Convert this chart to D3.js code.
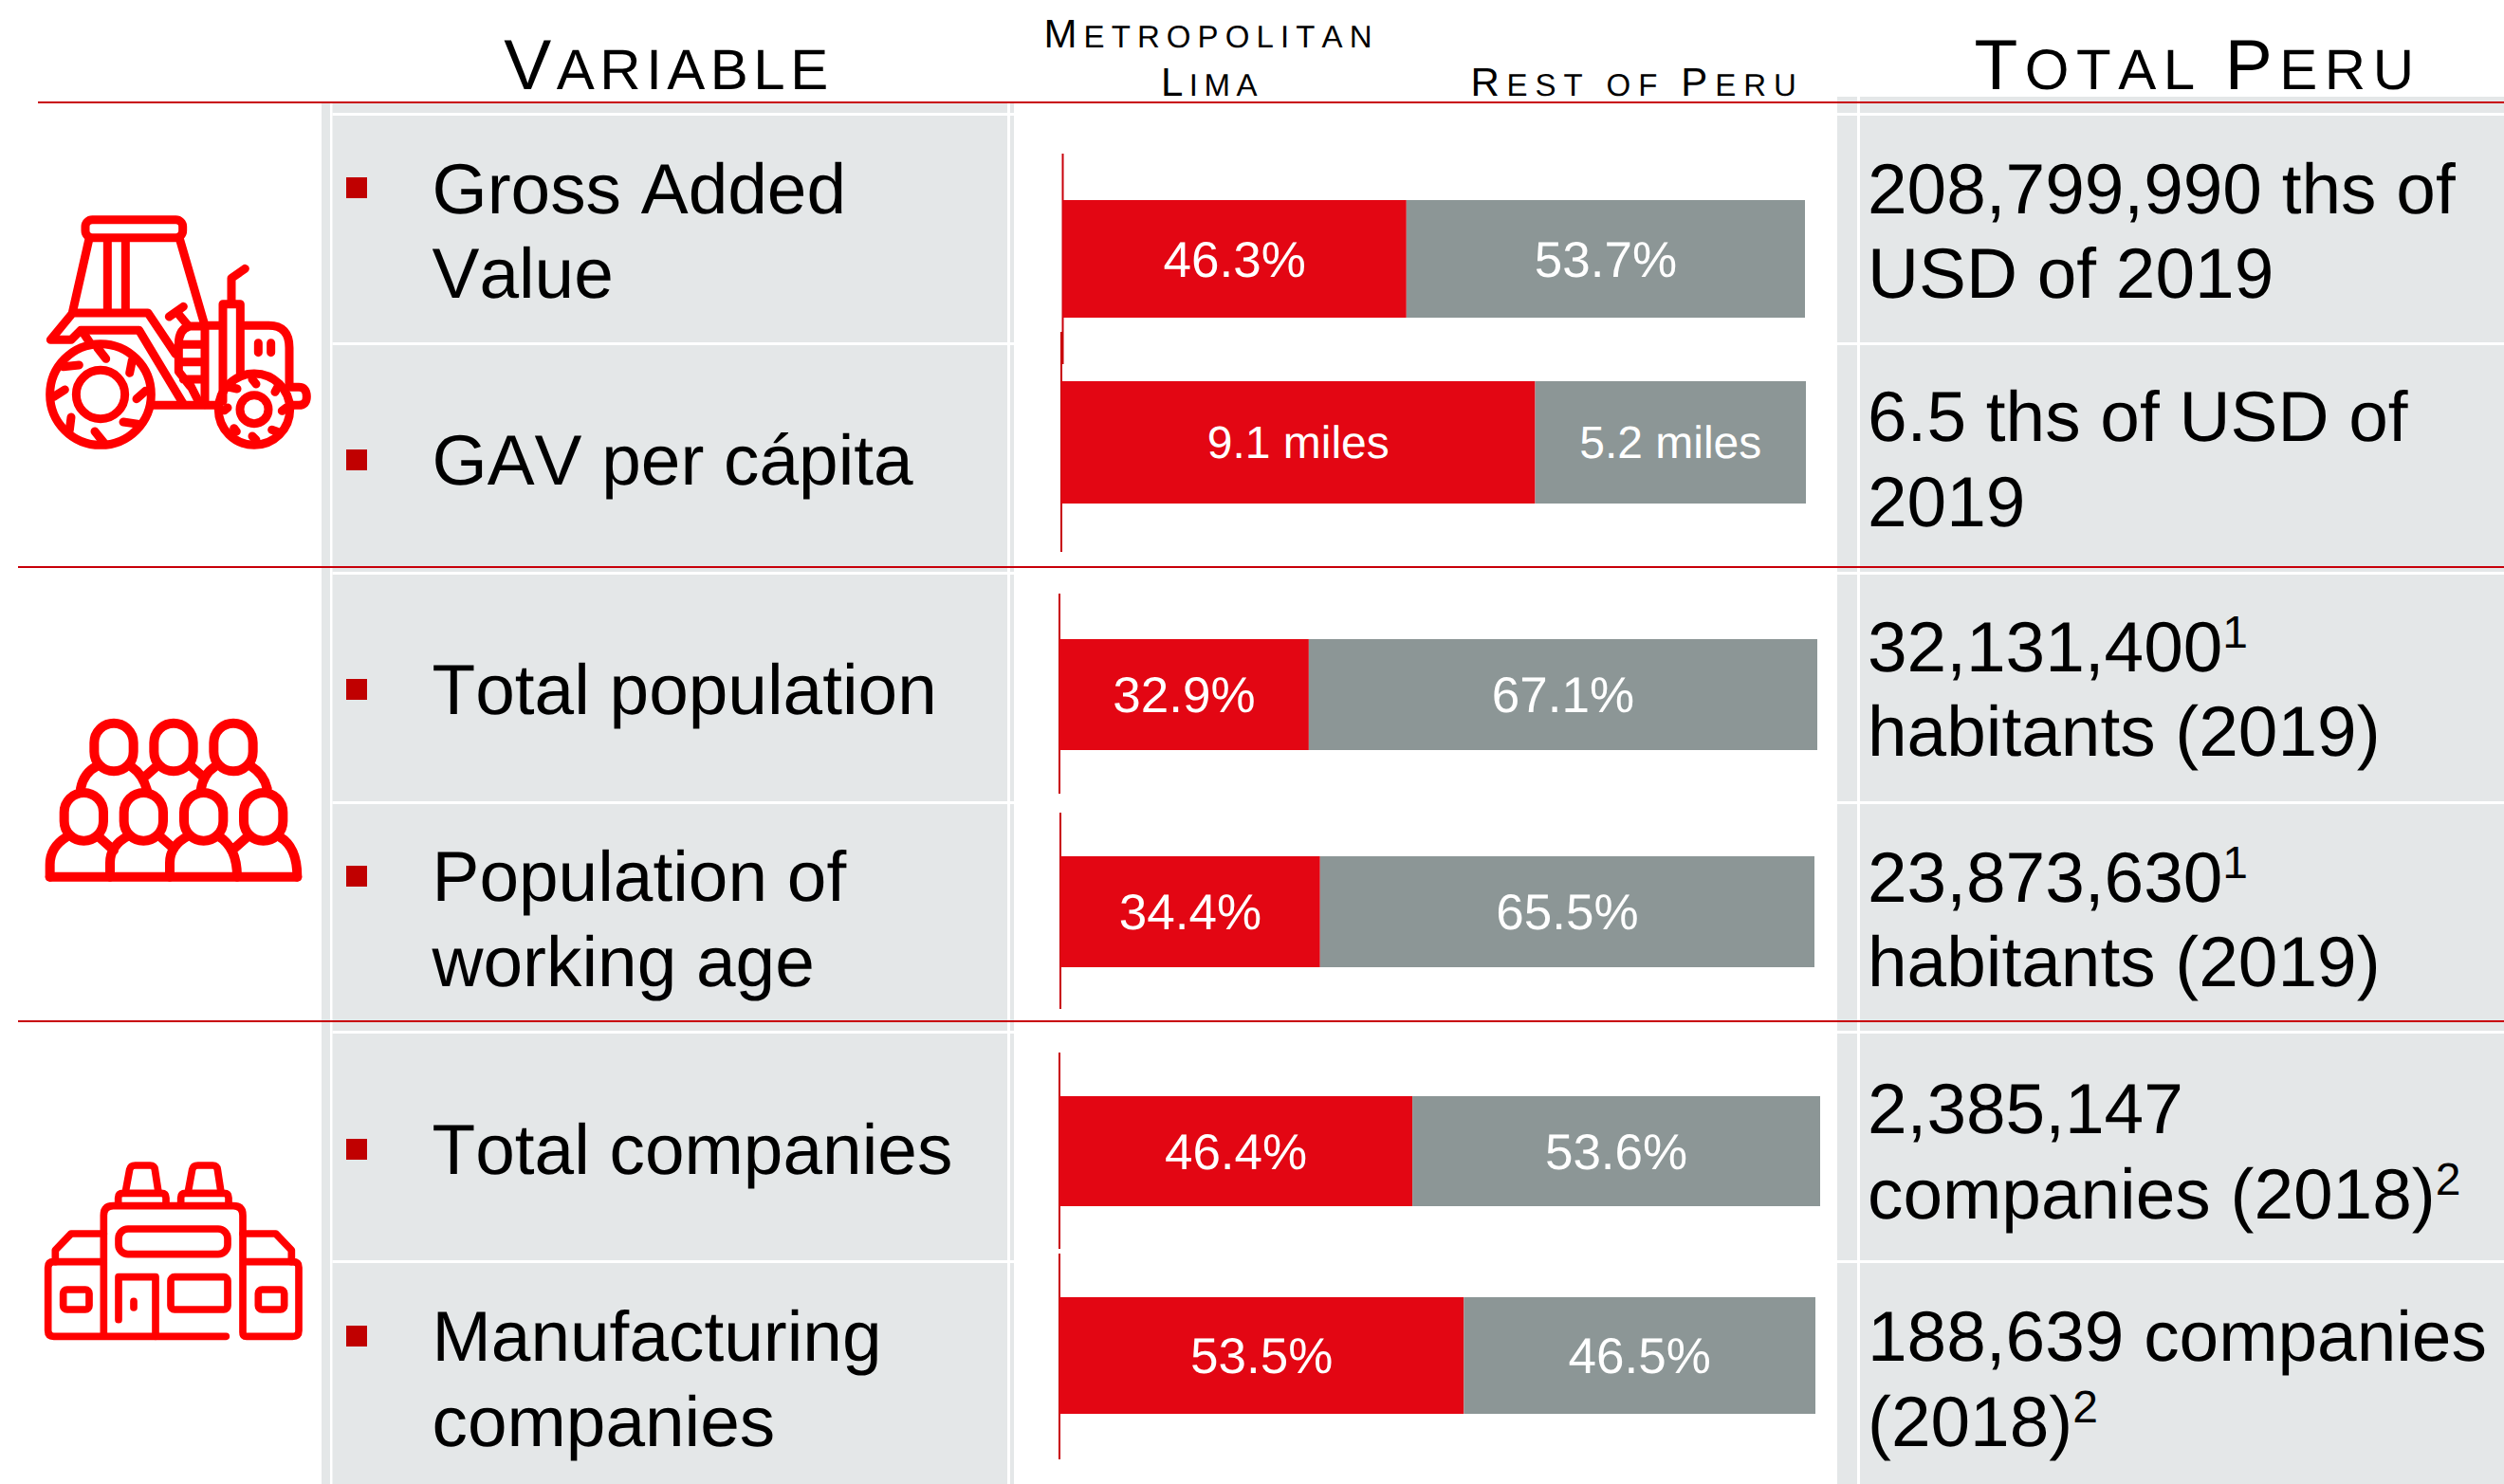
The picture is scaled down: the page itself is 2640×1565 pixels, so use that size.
<!DOCTYPE html>
<html><head><meta charset="utf-8">
<script src="https://cdn.jsdelivr.net/npm/d3@7"></script>
<style>html,body{margin:0;padding:0;background:#fff}svg{display:block}text{font-family:"Liberation Sans",Arial,sans-serif;font-kerning:none;text-rendering:geometricPrecision}</style>
</head><body><div id="c"></div>
<script>
// ---- data ----
const variables = [["Gross Added","Value"],["GAV per cápita"],["Total population"],["Population of","working age"],["Total companies"],["Manufacturing","companies"]];
const limaValues = [46.3, 9.1, 32.9, 34.4, 46.4, 53.5];
const restValues = [53.7, 5.2, 67.1, 65.5, 53.6, 46.5];
const limaLabels = ["46.3%","9.1 miles","32.9%","34.4%","46.4%","53.5%"];
const restLabels = ["53.7%","5.2 miles","67.1%","65.5%","53.6%","46.5%"];
const totals = [
  [["208,799,990 ths of"],["USD of 2019"]],
  [["6.5 ths of USD of"],["2019"]],
  [["32,131,400","1"],["habitants (2019)"]],
  [["23,873,630","1"],["habitants (2019)"]],
  [["2,385,147"],["companies (2018)","2"]],
  [["188,639 companies"],["(2018)","2"]]
];
// ---- layout (pixels) ----
const W=2640,H=1565;
const barX=[[1120.5,1903],[1119,1904],[1117,1916],[1118,1913],[1117,1919],[1117,1914]];
const barY=[[211,335],[402,531],[674,791],[903,1020],[1156,1272],[1368,1491]];
const axisY=[[162,384],[350,582],[626,837],[857,1064],[1110,1317],[1322,1539]];
const bulletCy=[198,485,727,924,1212,1409];
const textBase=[[224.5,314],[511],[753],[950,1040],[1238],[1435,1525]];
const totalBase=[[224.5,314],[465,555],[707.5,797],[951,1040],[1194.5,1284.5],[1435,1525]];
const seps=[119,361,603,845,1087,1329];
const GRAY="#e4e7e8",RED="#e30613",SLATE="#8c9696",LINE="#c8000a",ICON="#ff0000";

const svg=d3.select("#c").append("svg").attr("width",W).attr("height",H).attr("viewBox",`0 0 ${W} ${H}`);
svg.append("rect").attr("width",W).attr("height",H).attr("fill","#fff");

// panels
const bg=svg.append("g").attr("fill",GRAY);
[[339,108,9,H-108],[350.5,108,711.5,H-108],[1065,108,4,H-108],[1937,102,21,H-102],[1961,102,679,H-102]]
 .forEach(r=>bg.append("rect").attr("x",r[0]).attr("y",r[1]).attr("width",r[2]).attr("height",r[3]));
const sepG=svg.append("g").attr("fill","#fff");
seps.forEach(y=>{
  sepG.append("rect").attr("x",350.5).attr("y",y).attr("width",718.5).attr("height",3);
  sepG.append("rect").attr("x",1937).attr("y",y).attr("width",703).attr("height",3);
});

// bars: one linear scale per row, since each row is drawn to its own extent
const rows=d3.range(6).map(i=>({i,lima:limaValues[i],rest:restValues[i],
  x:d3.scaleLinear().domain([0,limaValues[i]+restValues[i]]).range(barX[i])}));
const barsG=svg.append("g");
const row=barsG.selectAll("g").data(rows).join("g");
row.append("line").attr("x1",d=>d.x(0)).attr("x2",d=>d.x(0))
   .attr("y1",d=>axisY[d.i][0]).attr("y2",d=>axisY[d.i][1]).attr("stroke",LINE).attr("stroke-width",2);
row.append("rect").attr("x",d=>d.x(0)).attr("y",d=>barY[d.i][0]).attr("height",d=>barY[d.i][1]-barY[d.i][0])
   .attr("width",d=>d.x(d.lima)-d.x(0)).attr("fill",RED);
row.append("rect").attr("x",d=>d.x(d.lima)).attr("y",d=>barY[d.i][0]).attr("height",d=>barY[d.i][1]-barY[d.i][0])
   .attr("width",d=>d.x(d.lima+d.rest)-d.x(d.lima)).attr("fill",SLATE);
const valAttrs=s=>s.attr("fill","#fff").attr("text-anchor","middle")
   .attr("font-size",d=>d.i===1?48:53).attr("y",d=>(barY[d.i][0]+barY[d.i][1])/2+(d.i===1?16:18.5));
row.append("text").call(valAttrs).attr("x",d=>(d.x(0)+d.x(d.lima))/2).text(d=>limaLabels[d.i]);
row.append("text").call(valAttrs).attr("x",d=>(d.x(d.lima)+d.x(d.lima+d.rest))/2).text(d=>restLabels[d.i]);

// red rules
[[40,108],[19,598],[19,1077]].forEach(l=>svg.append("line").attr("x1",l[0]).attr("x2",W).attr("y1",l[1]).attr("y2",l[1]).attr("stroke",LINE).attr("stroke-width",2));

// left column
variables.forEach((lines,i)=>{
  svg.append("rect").attr("x",365).attr("y",bulletCy[i]-11).attr("width",22).attr("height",22).attr("fill","#c00000");
  lines.forEach((t,j)=>svg.append("text").attr("x",455.5).attr("y",textBase[i][j]).attr("font-size",74.8).attr("fill","#000").text(t));
});
// right column
totals.forEach((lines,i)=>lines.forEach((p,j)=>{
  const t=svg.append("text").attr("x",1969).attr("y",totalBase[i][j]).attr("font-size",74.8).attr("fill","#000");
  t.append("tspan").text(p[0]);
  if(p[1]) t.append("tspan").attr("font-size",48).attr("dy",-25).text(p[1]);
}));

// small-caps headers
function caps(x,y,str,big,small,ls,anchor){
  const t=svg.append("text").attr("x",x).attr("y",y).attr("text-anchor",anchor||"middle").attr("letter-spacing",ls).attr("fill","#000");
  str.split("").forEach(c=>{
    const up=c===c.toUpperCase()&&c!==" ";
    t.append("tspan").attr("font-size",up?big:small).text(c===" "?"\u00a0":c.toUpperCase());
  });
}
caps(705,94,"Variable",75,60,5.5);
caps(1277,50,"Metropolitan",42,33,7.1);
caps(1278,101,"Lima",42,33,6.5);
caps(1726,101,"Rest of Peru",42,33,7.9);
caps(2317,94,"Total Peru",75,60,7.5);

// icons
function icon(tx,ty,sw,fn){
  const g=svg.append("g").attr("transform",`translate(${tx},${ty}) scale(${1/3})`)
    .attr("fill","none").attr("stroke",ICON).attr("stroke-width",sw).attr("stroke-linecap","round").attr("stroke-linejoin","round");
  fn(g);
}
const P=(g,d)=>g.append("path").attr("d",d);
const C=(g,x,y,r)=>g.append("circle").attr("cx",x).attr("cy",y).attr("r",r);
const R=(g,x,y,w,h,r)=>g.append("rect").attr("x",x).attr("y",y).attr("width",w).attr("height",h).attr("rx",r);

icon(20,210,27,g=>{
  R(g,210,65,308,57,22);
  P(g,"M222,125L170,355M508,125L585,390M280,125V355M337,125V355");
  P(g,"M100,445L170,360H408L495,490M100,445H165L195,415H380L520,648M535,575L572,648");
  P(g,"M425,652H620M205,425L225,455");
  C(g,258,618,160);C(g,258,618,77);
  P(g,"M248,470L275,505M358,510L350,550M400,607L372,632M380,712L330,705M240,735L268,770M165,690L160,730M145,603L110,625M140,530L190,525");
  C(g,744,665,113);C(g,744,665,45);
  P(g,"M738,570L750,585M690,600L665,595M660,660L650,668M680,725L688,735M738,750L750,762M800,730L815,735M832,670L845,660M810,610L818,595");
  P(g,"M715,400H790Q855,400 855,470V590");
  P(g,"M585,402H540Q505,410 505,460V545L540,590M510,460H588M510,515H588M520,570H588M588,402V650M588,400H645M645,640V332H700V550");
  P(g,"M672,330V250L715,220M475,372L520,340M500,358L535,400");
  P(g,"M757,455V485M797,455V485");
  P(g,"M860,595H885Q910,595 910,625Q910,652 885,652H860");
});

icon(20,720,30,g=>{
  [300,489,678].forEach(x=>R(g,x-62,128,124,152,62));
  [205,394,584,773].forEach(x=>R(g,x-62,348,124,152,62));
  P(g,"M98,614H880");
  P(g,"M98,614V575Q98,520 150,488M255,490L300,530M288,614V570Q288,515 345,485M445,485L490,525M477,614V570Q477,515 535,485M630,485Q690,520 690,614M680,525L725,485M825,488Q880,520 880,614V614");
  P(g,"M195,335Q205,285 245,265M355,265Q392,290 405,340M395,300L435,265M545,265L585,300M575,340Q582,290 620,265M735,265Q775,290 785,335");
});

icon(20,1200,23,g=>{
  P(g,"M655,628H110Q92,628 92,610V410Q92,392 110,392H268M268,628V245Q268,215 298,215H678Q708,215 708,245V615Q708,628 720,628H865Q885,628 885,610V410Q885,392 865,392H708");
  P(g,"M115,392V355L165,303H268M862,392V355L812,303H708");
  R(g,140,480,82,63,12);R(g,757,480,82,63,12);
  R(g,315,288,345,80,30);
  P(g,"M315,575V440H432V628M363,517V537");
  R(g,480,440,180,103,12);
  [0,198].forEach(d=>{
    P(g,`M${314+d},205V190Q${314+d},175 ${330+d},175H${450+d}Q${465+d},175 ${465+d},190V205`);
    P(g,`M${338+d},165L${350+d},100Q${353+d},87 ${368+d},87H${415+d}Q${428+d},87 ${430+d},100L${440+d},165`);
  });
});
</script></body></html>
